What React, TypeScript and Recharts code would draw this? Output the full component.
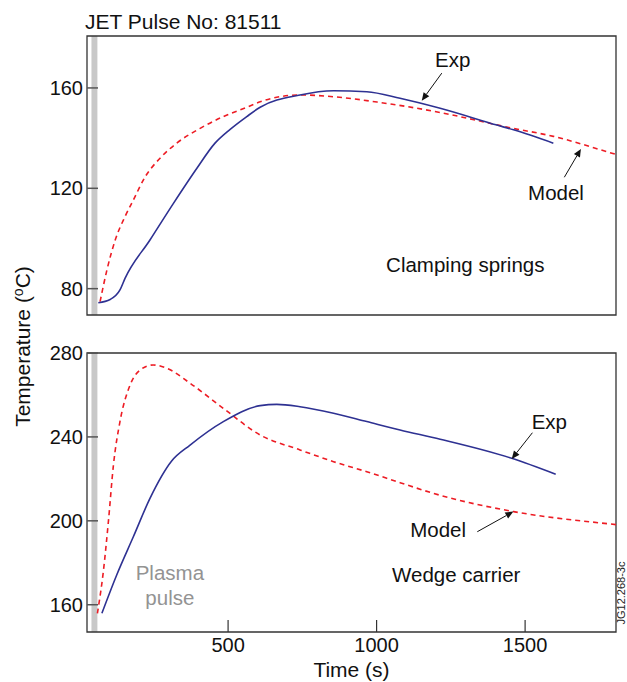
import React from 'react'
import {
  LineChart,
  Line,
  XAxis,
  YAxis,
  ReferenceArea,
  ReferenceLine,
  ReferenceDot,
} from 'recharts'

const FONT = '"Liberation Sans", Arial, Helvetica, sans-serif'
const BLUE = '#2e3192'
const RED = '#ed1c24'

// time axis (s)
const timeDomain: [number, number] = [25, 1806]
const timeTicks = [500, 1000, 1500]
const pulseWindow: [number, number] = [40, 60]

// clamping springs panel
const springDomain: [number, number] = [69.5, 180.7]
const springTicks = [80, 120, 160]
const springExp = [
  { t: 63, v: 74.4 }, { t: 103, v: 75.7 }, { t: 136, v: 79.5 }, { t: 153, v: 84.1 },
  { t: 237, v: 99.4 }, { t: 316, v: 114 }, { t: 395, v: 128 }, { t: 456, v: 138 },
  { t: 507, v: 143.5 }, { t: 563, v: 148.6 }, { t: 608, v: 152.3 }, { t: 742, v: 157.2 },
  { t: 855, v: 158.9 }, { t: 967, v: 158.5 }, { t: 1079, v: 155.9 }, { t: 1214, v: 151.9 },
  { t: 1405, v: 145.2 }, { t: 1461, v: 143.3 }, { t: 1595, v: 138 },
]
const springModel = [
  { t: 69, v: 74.8 }, { t: 92, v: 87.4 }, { t: 120, v: 99.4 }, { t: 153, v: 108.7 },
  { t: 181, v: 115.3 }, { t: 221, v: 124.6 }, { t: 271, v: 132 }, { t: 327, v: 138 },
  { t: 406, v: 143.9 }, { t: 484, v: 148.6 }, { t: 563, v: 152.3 }, { t: 608, v: 154.5 },
  { t: 742, v: 157.2 }, { t: 855, v: 156.5 }, { t: 1012, v: 154.2 }, { t: 1214, v: 150.2 },
  { t: 1348, v: 146.8 }, { t: 1438, v: 144.4 }, { t: 1595, v: 140.7 }, { t: 1786, v: 134.2 },
  { t: 1806, v: 133.5 },
]

// wedge carrier panel
const wedgeDomain: [number, number] = [147, 280]
const wedgeTicks = [160, 200, 240, 280]
const wedgeExp = [
  { t: 75, v: 155.9 }, { t: 125, v: 174.2 }, { t: 181, v: 192.4 }, { t: 237, v: 210.7 },
  { t: 310, v: 228.5 }, { t: 372, v: 236.1 }, { t: 484, v: 247.3 }, { t: 608, v: 254.9 },
  { t: 664, v: 255.5 }, { t: 742, v: 254.4 }, { t: 855, v: 251.3 }, { t: 967, v: 247.3 },
  { t: 1079, v: 243.3 }, { t: 1214, v: 238.9 }, { t: 1455, v: 229.8 }, { t: 1603, v: 222.2 },
]
const wedgeModel = [
  { t: 60, v: 155.9 }, { t: 80, v: 175.8 }, { t: 97, v: 199.6 }, { t: 114, v: 226.6 },
  { t: 136, v: 247.3 }, { t: 170, v: 264.7 }, { t: 204, v: 271.9 }, { t: 248, v: 274.3 },
  { t: 294, v: 272.7 }, { t: 372, v: 265.6 }, { t: 484, v: 253.6 }, { t: 608, v: 240.9 },
  { t: 742, v: 233.8 }, { t: 855, v: 228.2 }, { t: 967, v: 223.4 }, { t: 1079, v: 218.2 },
  { t: 1191, v: 213.1 }, { t: 1461, v: 204.4 }, { t: 1786, v: 198.5 }, { t: 1806, v: 198.2 },
]

// annotations, in data units
const springNotes = [
  { t: 1197, v: 168.4, text: 'Exp', anchor: 'start', color: '#111' },
  { t: 1510, v: 115.3, text: 'Model', anchor: 'start', color: '#111' },
  { t: 1032, v: 86.6, text: 'Clamping springs', anchor: 'start', color: '#111' },
]
const springArrows = [
  { from: { x: 1219.5, y: 165.9 }, to: { x: 1152, y: 154.9 } },
  { from: { x: 1632, y: 124.4 }, to: { x: 1688, y: 135.7 } },
]
const wedgeNotes = [
  { t: 1522, v: 243.6, text: 'Exp', anchor: 'start', color: '#111' },
  { t: 1113, v: 192.2, text: 'Model', anchor: 'start', color: '#111' },
  { t: 1052, v: 170.8, text: 'Wedge carrier', anchor: 'start', color: '#111' },
  { t: 304, v: 171.8, text: 'Plasma', anchor: 'middle', color: '#939393' },
  { t: 304, v: 159.9, text: 'pulse', anchor: 'middle', color: '#939393' },
]
const wedgeArrows = [
  { from: { x: 1524.6, y: 242.0 }, to: { x: 1455, y: 229.5 } },
  { from: { x: 1339, y: 194.8 }, to: { x: 1460.6, y: 204.4 } },
]

const YTick = (props: any) => {
  const { x, y, payload } = props
  return (
    <g>
      <line x1={x + 4} x2={x + 15} y1={y} y2={y} stroke="#555" strokeWidth={1.5} />
      <text x={x} y={y + 7} textAnchor="end" fontSize={20} fontFamily={FONT} fill="#111">
        {payload.value}
      </text>
    </g>
  )
}

const XTick = (props: any) => {
  const { x, y, payload } = props
  return (
    <g>
      <line x1={x} x2={x} y1={y - 5} y2={y - 17} stroke="#333" strokeWidth={1.2} />
      <text x={x} y={y + 15} textAnchor="middle" fontSize={20} fontFamily={FONT} fill="#111">
        {payload.value}
      </text>
    </g>
  )
}

const arrowShape = (p: any) => {
  const { x1, y1, x2, y2 } = p
  const a = Math.atan2(y2 - y1, x2 - x1)
  const len = 8
  const w = 3.5
  const bx = x2 - len * Math.cos(a)
  const by = y2 - len * Math.sin(a)
  const pts = `${x2},${y2} ${bx - w * Math.sin(a)},${by + w * Math.cos(a)} ${bx + w * Math.sin(a)},${by - w * Math.cos(a)}`
  return (
    <g>
      <line x1={x1} y1={y1} x2={bx} y2={by} stroke="#111" strokeWidth={1} />
      <polygon points={pts} fill="#111" />
    </g>
  )
}

type Note = { t: number; v: number; text: string; anchor: string; color: string }

const renderNotes = (notes: Note[]) =>
  notes.map((n) => (
    <ReferenceDot
      key={n.text}
      x={n.t}
      y={n.v}
      r={0}
      ifOverflow="visible"
      shape={(p: any) => (
        <text
          x={p.cx}
          y={p.cy}
          textAnchor={n.anchor as any}
          fontSize={20.5}
          fontFamily={FONT}
          fill={n.color}
        >
          {n.text}
        </text>
      )}
    />
  ))

const renderArrows = (arrows: { from: { x: number; y: number }; to: { x: number; y: number } }[]) =>
  arrows.map((a, i) => (
    <ReferenceLine key={i} segment={[a.from, a.to]} ifOverflow="visible" shape={arrowShape} />
  ))

const Panel: React.FC<{
  height: number
  margin: { top: number; right: number; bottom: number; left: number }
  yDomain: [number, number]
  yTicks: number[]
  exp: { t: number; v: number }[]
  model: { t: number; v: number }[]
  notes: Note[]
  arrows: { from: { x: number; y: number }; to: { x: number; y: number } }[]
  showX: boolean
}> = ({ height, margin, yDomain, yTicks, exp, model, notes, arrows, showX }) => (
  <LineChart width={627} height={height} margin={margin}>
    <XAxis
      type="number"
      dataKey="t"
      domain={timeDomain}
      allowDataOverflow
      ticks={timeTicks}
      hide={!showX}
      height={50}
      axisLine={false}
      tickLine={false}
      tickSize={0}
      tickMargin={5}
      tick={<XTick />}
    />
    <YAxis
      type="number"
      domain={yDomain}
      allowDataOverflow
      ticks={yTicks}
      width={87}
      axisLine={false}
      tickLine={false}
      tickSize={0}
      tickMargin={4}
      tick={<YTick />}
    />
    <ReferenceArea x1={pulseWindow[0]} x2={pulseWindow[1]} y1={yDomain[0]} y2={yDomain[1]} fill="#c8c8c8" fillOpacity={1} stroke="none" />
    <ReferenceArea
      x1={timeDomain[0]}
      x2={timeDomain[1]}
      y1={yDomain[0]}
      y2={yDomain[1]}
      fill="none"
      stroke="#333"
      strokeWidth={1.3}
      ifOverflow="visible"
    />
    <Line
      data={model}
      dataKey="v"
      type="monotone"
      stroke={RED}
      strokeWidth={1.6}
      strokeDasharray="5 4"
      dot={false}
      isAnimationActive={false}
    />
    <Line
      data={exp}
      dataKey="v"
      type="monotone"
      stroke={BLUE}
      strokeWidth={1.6}
      dot={false}
      isAnimationActive={false}
    />
    {renderArrows(arrows)}
    {renderNotes(notes)}
  </LineChart>
)

export default function App() {
  return (
    <div
      style={{
        position: 'absolute',
        left: 0,
        top: 0,
        width: 627,
        height: 682,
        background: '#fff',
        fontFamily: FONT,
      }}
    >
      <div style={{ position: 'absolute', left: 0, top: 0 }}>
        <Panel
          height={340}
          margin={{ top: 36, right: 11, bottom: 25, left: 0 }}
          yDomain={springDomain}
          yTicks={springTicks}
          exp={springExp}
          model={springModel}
          notes={springNotes}
          arrows={springArrows}
          showX={false}
        />
      </div>
      <div style={{ position: 'absolute', left: 0, top: 340 }}>
        <Panel
          height={342}
          margin={{ top: 13, right: 11, bottom: 0, left: 0 }}
          yDomain={wedgeDomain}
          yTicks={wedgeTicks}
          exp={wedgeExp}
          model={wedgeModel}
          notes={wedgeNotes}
          arrows={wedgeArrows}
          showX
        />
      </div>
      <svg
        width={627}
        height={682}
        style={{ position: 'absolute', left: 0, top: 0, pointerEvents: 'none' }}
      >
        <text x={85} y={29} fontSize={21} fontFamily={FONT} fill="#111">
          JET Pulse No: 81511
        </text>
        <text
          x={30}
          y={346.5}
          textAnchor="middle"
          fontSize={21}
          fontFamily={FONT}
          fill="#111"
          transform="rotate(-90 30 346.5)"
        >
          Temperature (
          <tspan fontSize={14} dy={-7}>o</tspan>
          <tspan dy={7}>C)</tspan>
        </text>
        <text x={351.5} y={677} textAnchor="middle" fontSize={21} fontFamily={FONT} fill="#111">
          Time (s)
        </text>
        <text
          x={625}
          y={593}
          textAnchor="middle"
          fontSize={11}
          fontFamily={FONT}
          fill="#222"
          transform="rotate(-90 625 593)"
        >
          JG12.268-3c
        </text>
      </svg>
    </div>
  )
}
